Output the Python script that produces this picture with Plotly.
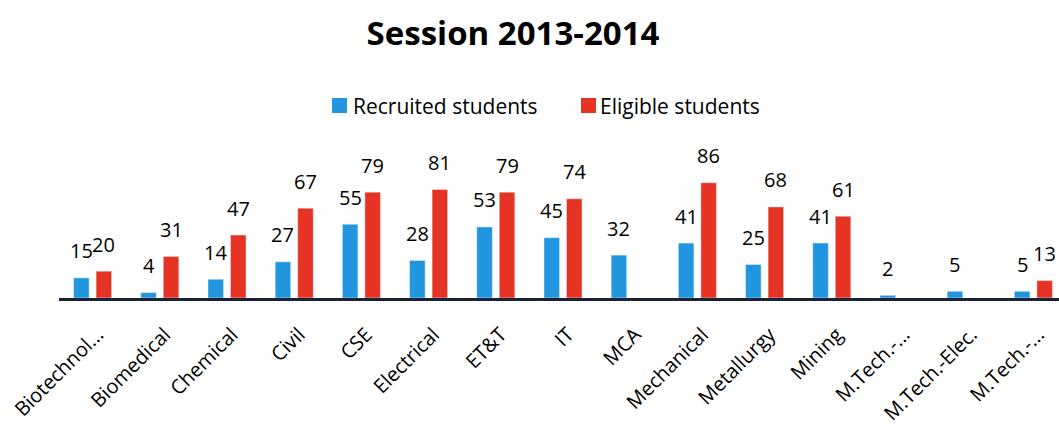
import plotly.graph_objects as go

# ---- data ----
tick_labels = ["Biotechnol...", "Biomedical", "Chemical", "Civil", "CSE", "Electrical",
               "ET&T", "IT", "MCA", "Mechanical", "Metallurgy", "Mining",
               "M.Tech.-...", "M.Tech.-Elec.", "M.Tech.-..."]
recruited = [15, 4, 14, 27, 55, 28, 53, 45, 32, 41, 25, 41, 2, 5, 5]
eligible = [20, 31, 47, 67, 79, 81, 79, 74, None, 86, 68, 61, None, None, 13]
series_names = ["Recruited students", "Eligible students"]
title_text = "Session 2013-2014"

# ---- style ----
W, H = 1059, 445
ML, MR, MT, MB = 59, 0, 151, 147
PW = W - ML - MR
PH = H - MT - MB
BLUE = "#2196DE"
RED = "#E63323"
FONT = "Open Sans"
cat_px = 67.2
xmax = -0.5 + PW / cat_px
ymax = PH / 1.34

def px2x(px):
    return (px - ML) / PW

def py2y(py):
    return (H - MB - py) / PH

idx = list(range(len(tick_labels)))

fig = go.Figure()
fig.add_trace(go.Bar(x=idx, y=recruited, name=series_names[0], marker_color=BLUE,
                     showlegend=False))
fig.add_trace(go.Bar(x=idx, y=eligible, name=series_names[1], marker_color=RED,
                     showlegend=False))

annotations = []
slot = cat_px * (1 - 0.33) / 2
for vals, sh in ((recruited, -slot / 2), (eligible, slot / 2)):
    for i, v in zip(idx, vals):
        if v is None:
            continue
        annotations.append(dict(x=i, y=v, xref="x", yref="y", text=str(v),
                                showarrow=False, xshift=sh, yshift=27,
                                yanchor="middle", xanchor="center",
                                font=dict(family=FONT, size=20, color="black")))

# manual legend
legend_items = [(series_names[0], BLUE, 332, 351), (series_names[1], RED, 581, 598)]
shapes = []
for name, col, sx, tx in legend_items:
    shapes.append(dict(type="rect", xref="paper", yref="paper",
                       x0=px2x(sx), x1=px2x(sx + 15), y0=py2y(113), y1=py2y(98),
                       fillcolor=col, line=dict(width=0)))
    annotations.append(dict(x=px2x(tx), y=py2y(106), xref="paper", yref="paper",
                            text=name, showarrow=False, xanchor="left", yanchor="middle",
                            font=dict(family=FONT, size=21, color="black")))

fig.update_layout(
    width=W, height=H,
    margin=dict(l=ML, r=MR, t=MT, b=MB, autoexpand=False),
    paper_bgcolor="white", plot_bgcolor="white",
    barmode="group", bargap=0.33, bargroupgap=0.31,
    title=dict(text="<b>" + title_text + "</b>", x=513 / W, xanchor="center",
               y=1 - 33 / H, yanchor="middle",
               font=dict(family=FONT, size=33, color="black")),
    xaxis=dict(tickvals=idx, ticktext=tick_labels, tickangle=-45,
               range=[-0.5, xmax], showgrid=False, zeroline=False,
               showline=True, linecolor="#1c2236", linewidth=3,
               ticks="", ticklabelstandoff=14, ticklabelshift=5,
               ticklabeloverflow="allow", automargin=False,
               tickfont=dict(family=FONT, size=20, color="black")),
    yaxis=dict(range=[0, ymax], visible=False, showgrid=False, zeroline=False,
               automargin=False),
    annotations=annotations,
    shapes=shapes,
)

fig.write_html("out.html")
